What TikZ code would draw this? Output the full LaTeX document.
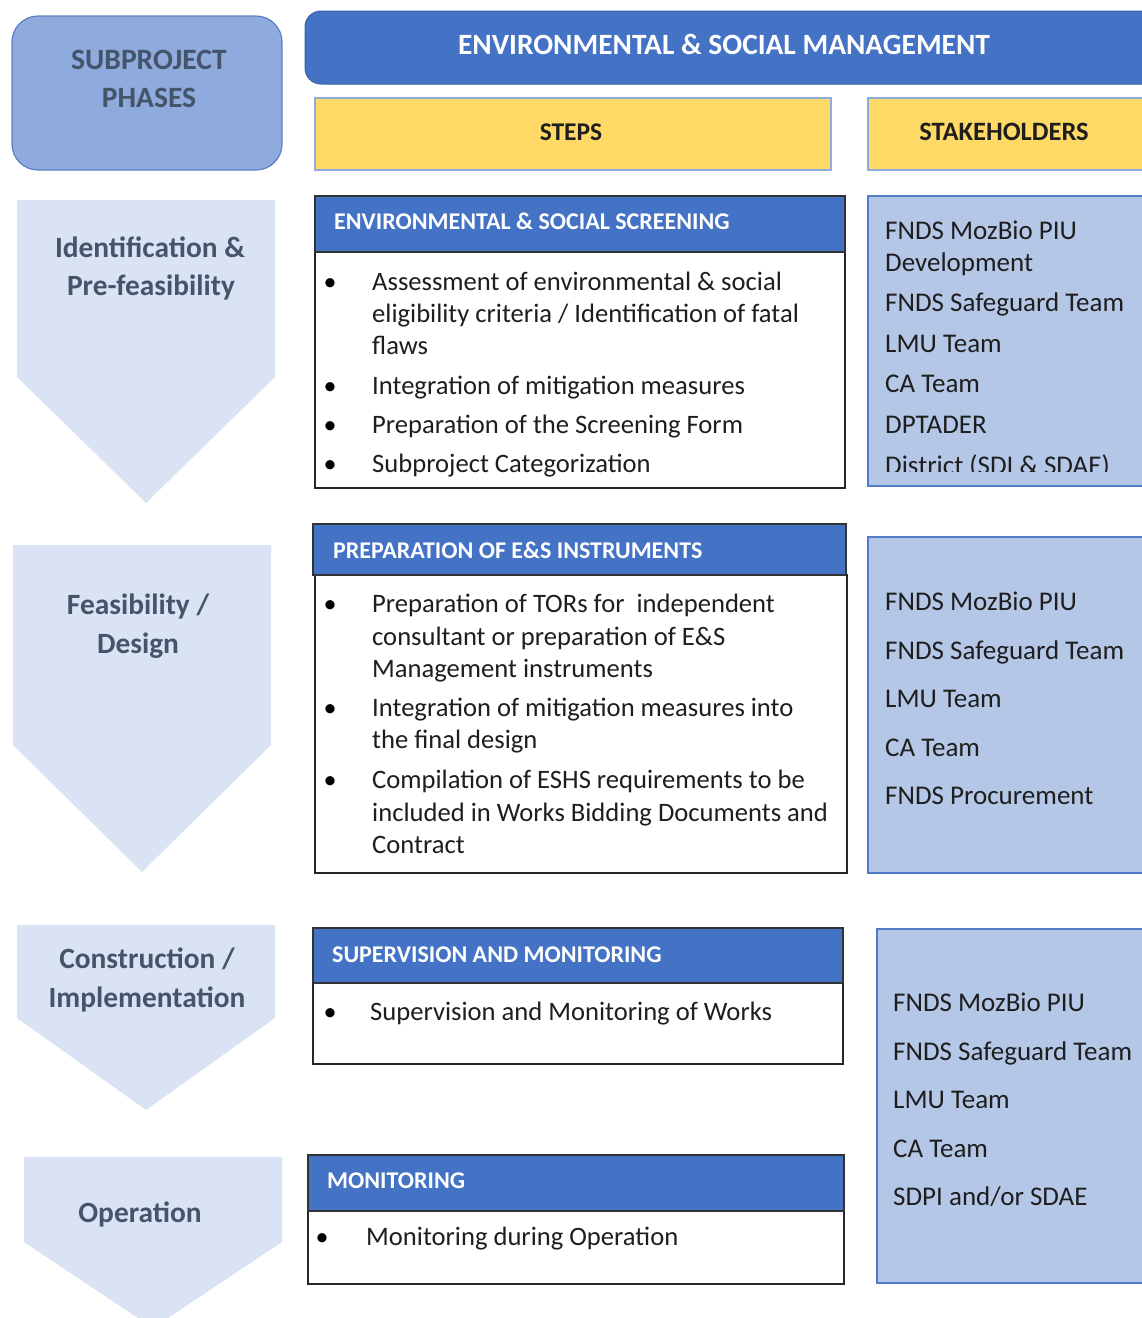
\documentclass[tikz,border=0pt]{standalone}
\usepackage{fontspec}
\setmainfont{Carlito}
\definecolor{hdrblue}{HTML}{4472C4}
\definecolor{subblue}{HTML}{8FAADC}
\definecolor{subborder}{HTML}{5B7FC2}
\definecolor{stakefill}{HTML}{B4C7E7}
\definecolor{stakeborder}{HTML}{4F7BC8}
\definecolor{phasefill}{HTML}{DAE3F3}
\definecolor{phasetext}{HTML}{44546A}
\definecolor{yel}{HTML}{FFD966}
\definecolor{yelborder}{HTML}{8FAADC}
\definecolor{bodytext}{HTML}{1E1E1E}
\newcommand\putline[4]{\node[#1] (#2) at (#3) {#4};}
\begin{document}
\begin{tikzpicture}[x=1pt,y=-1pt,
  box/.style={rectangle, anchor=north west, inner sep=0pt, outer sep=0pt},
  hdrbox/.style={box, fill=hdrblue, draw=black!80, line width=1.2pt},
  bodybox/.style={box, fill=white, draw=black!85, line width=1.2pt},
  stakebox/.style={box, fill=stakefill, draw=stakeborder, line width=1.2pt},
  yelbox/.style={box, fill=yel, draw=yelborder, line width=1.2pt},
  body/.style={font=\fontsize{26.6}{32}\selectfont, text=bodytext, inner sep=0pt, anchor=base west},
  stk/.style={font=\fontsize{27}{32}\selectfont, text=bodytext, inner sep=0pt, anchor=base west},
  bul/.style={font=\fontsize{26}{32}\selectfont, text=black, inner sep=0pt, anchor=base},
  hdrtxt/.style={font=\bfseries\fontsize{24}{28}\selectfont, text=white, inner sep=0pt, anchor=base west},
  phasetxt/.style={font=\bfseries\fontsize{29.4}{34}\selectfont, text=phasetext, inner sep=0pt, anchor=base},
  toptxt/.style={font=\bfseries\fontsize{29.5}{32}\selectfont, inner sep=0pt, anchor=base},
  phase/.style={fill=phasefill}
]
\useasboundingbox (0,0) rectangle (1142,1318);

% ---------- top row ----------
\node[box, fill=subblue, draw=subborder, line width=1.2pt, rounded corners=26pt,
      minimum width=270pt, minimum height=154pt] (sub) at (12,16) {};
\putline{toptxt, text=phasetext}{subA}{149,69}{SUBPROJECT}
\putline{toptxt, text=phasetext}{subB}{149,107}{PHASES}

\node[box, fill=hdrblue, draw=hdrblue!85!black, line width=1pt, rounded corners=16pt,
      minimum width=860pt, minimum height=73pt] (title) at (305,11) {};
\putline{toptxt, text=white, font=\bfseries\fontsize{29.4}{32}\selectfont}{titleT}{724,54}{ENVIRONMENTAL \& SOCIAL MANAGEMENT}

\node[yelbox, minimum width=516pt, minimum height=72pt] (steps) at (315,98) {};
\putline{toptxt, text=bodytext, font=\bfseries\fontsize{25.5}{30}\selectfont}{stepsT}{571,140}{STEPS}
\node[yelbox, minimum width=290pt, minimum height=72pt] (stake) at (868,98) {};
\putline{toptxt, text=bodytext, font=\bfseries\fontsize{26.5}{30}\selectfont}{stakeT}{1004,140}{STAKEHOLDERS}

% ---------- phase arrows ----------
\fill[phase] (17,200) -- (275,200) -- (275,377) -- (146,503) -- (17,377) -- cycle;
\fill[phase] (13,545) -- (271,545) -- (271,745) -- (142,872) -- (13,745) -- cycle;
\fill[phase] (17,925) -- (275,925) -- (275,1018) -- (146,1110) -- (17,1018) -- cycle;
\fill[phase] (24,1157) -- (282,1157) -- (282,1242) -- (153,1328) -- (24,1242) -- cycle;

\putline{phasetxt}{p1a}{150,257}{Identification \&}
\putline{phasetxt}{p1b}{151,295}{Pre-feasibility}
\putline{phasetxt}{p2a}{138,614}{Feasibility /}
\putline{phasetxt}{p2b}{138,653}{Design}
\putline{phasetxt}{p3a}{147,968}{Construction /}
\putline{phasetxt}{p3b}{147,1007}{Implementation}
\putline{phasetxt}{p4a}{140,1222}{Operation}

% ---------- steps box 1 ----------
\node[bodybox, minimum width=530pt, minimum height=236pt] (b1) at (315,252) {};
\node[hdrbox, minimum width=530pt, minimum height=56pt] (h1) at (315,196) {};
\putline{hdrtxt}{h1t}{334,229}{ENVIRONMENTAL \& SOCIAL SCREENING}
\putline{bul}{b1u1}{330,290}{•}
\putline{body}{b1l1}{372,290}{Assessment of environmental \& social}
\putline{body}{b1l2}{372,322}{eligibility criteria / Identification of fatal}
\putline{body}{b1l3}{372,354}{flaws}
\putline{bul}{b1u2}{330,394}{•}
\putline{body}{b1l4}{372,394}{Integration of mitigation measures}
\putline{bul}{b1u3}{330,433}{•}
\putline{body}{b1l5}{372,433}{Preparation of the Screening Form}
\putline{bul}{b1u4}{330,472}{•}
\putline{body}{b1l6}{372,472}{Subproject Categorization}

% ---------- steps box 2 ----------
\node[bodybox, minimum width=532pt, minimum height=298pt] (b2) at (315,575) {};
\node[hdrbox, minimum width=533pt, minimum height=51pt] (h2) at (313,524) {};
\putline{hdrtxt}{h2t}{333,558}{PREPARATION OF E\&S INSTRUMENTS}
\putline{bul}{b2u1}{330,612}{•}
\putline{body}{b2l1}{372,612}{Preparation of TORs for\ \ independent}
\putline{body}{b2l2}{372,645}{consultant or preparation of E\&S}
\putline{body}{b2l3}{372,677}{Management instruments}
\putline{bul}{b2u2}{330,716}{•}
\putline{body}{b2l4}{372,716}{Integration of mitigation measures into}
\putline{body}{b2l5}{372,748}{the final design}
\putline{bul}{b2u3}{330,788}{•}
\putline{body}{b2l6}{372,788}{Compilation of ESHS requirements to be}
\putline{body}{b2l7}{372,821}{included in Works Bidding Documents and}
\putline{body}{b2l8}{372,853}{Contract}

% ---------- steps box 3 ----------
\node[bodybox, minimum width=530pt, minimum height=81pt] (b3) at (313,983) {};
\node[hdrbox, minimum width=530pt, minimum height=55pt] (h3) at (313,928) {};
\putline{hdrtxt}{h3t}{332,962}{SUPERVISION AND MONITORING}
\putline{bul}{b3u1}{330,1020}{•}
\putline{body}{b3l1}{370,1020}{Supervision and Monitoring of Works}

% ---------- steps box 4 ----------
\node[bodybox, minimum width=536pt, minimum height=73pt] (b4) at (308,1211) {};
\node[hdrbox, minimum width=536pt, minimum height=56pt] (h4) at (308,1155) {};
\putline{hdrtxt}{h4t}{327,1188}{MONITORING}
\putline{bul}{b4u1}{322,1245}{•}
\putline{body}{b4l1}{366,1245}{Monitoring during Operation}

% ---------- stakeholders ----------
\node[stakebox, minimum width=290pt, minimum height=290pt] (s1) at (868,196) {};
\begin{scope}
\clip (868,196) rectangle (1150,471);
\putline{stk}{s1l1}{885,239}{FNDS MozBio PIU}
\putline{stk}{s1l2}{885,271}{Development}
\putline{stk}{s1l3}{885,311}{FNDS Safeguard Team}
\putline{stk}{s1l4}{885,352}{LMU Team}
\putline{stk}{s1l5}{885,392}{CA Team}
\putline{stk}{s1l6}{885,433}{DPTADER}
\putline{stk}{s1l7}{885,474}{District (SDI \& SDAE)}
\end{scope}

\node[stakebox, minimum width=290pt, minimum height=336pt] (s2) at (868,537) {};
\putline{stk}{s2l1}{885,610}{FNDS MozBio PIU}
\putline{stk}{s2l2}{885,659}{FNDS Safeguard Team}
\putline{stk}{s2l3}{885,707}{LMU Team}
\putline{stk}{s2l4}{885,756}{CA Team}
\putline{stk}{s2l5}{885,804}{FNDS Procurement}

\node[stakebox, minimum width=280pt, minimum height=354pt] (s3) at (877,929) {};
\putline{stk}{s3l1}{893,1011}{FNDS MozBio PIU}
\putline{stk}{s3l2}{893,1060}{FNDS Safeguard Team}
\putline{stk}{s3l3}{893,1108}{LMU Team}
\putline{stk}{s3l4}{893,1157}{CA Team}
\putline{stk}{s3l5}{893,1205}{SDPI and/or SDAE}
\end{tikzpicture}
\end{document}
